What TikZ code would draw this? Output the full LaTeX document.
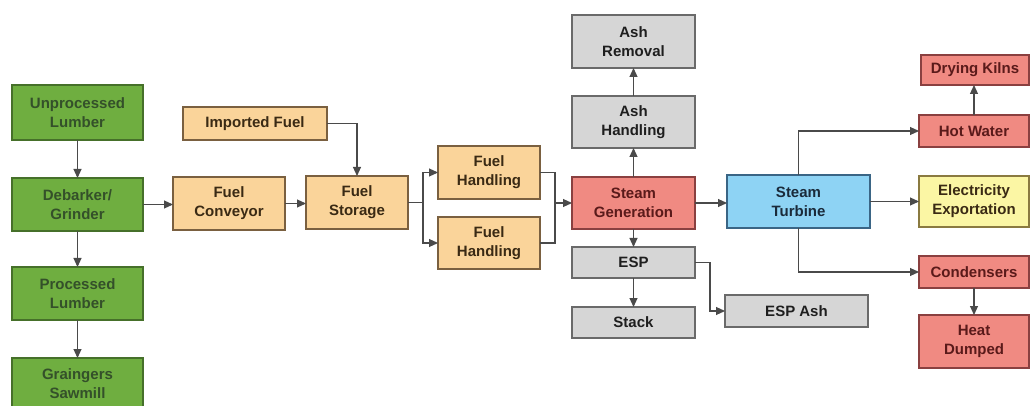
\documentclass[tikz,border=0pt]{standalone}
\usepackage{fontspec}
\setmainfont{Liberation Sans}
\usetikzlibrary{arrows.meta}
\definecolor{gfill}{HTML}{6FAE40}
\definecolor{gdraw}{HTML}{46702A}
\definecolor{gtext}{HTML}{34502A}
\definecolor{ofill}{HTML}{FAD49A}
\definecolor{odraw}{HTML}{7A6040}
\definecolor{otext}{HTML}{3A2A14}
\definecolor{kfill}{HTML}{D6D6D6}
\definecolor{kdraw}{HTML}{6A6A6A}
\definecolor{ktext}{HTML}{1E1E1E}
\definecolor{rfill}{HTML}{F08A82}
\definecolor{rdraw}{HTML}{8A4040}
\definecolor{rtext}{HTML}{5A1A1A}
\definecolor{bfill}{HTML}{8ED3F4}
\definecolor{bdraw}{HTML}{3A6585}
\definecolor{btext}{HTML}{1A2A3A}
\definecolor{yfill}{HTML}{FBF6A4}
\definecolor{ydraw}{HTML}{8A7A40}
\definecolor{lcol}{HTML}{4A4A4A}
\tikzset{
  box/.style={rectangle, inner sep=0pt, outer sep=0pt, line width=1.5pt, align=center,
    font=\fontsize{15}{19}\selectfont\bfseries},
  gbox/.style={box, fill=gfill, draw=gdraw, text=gtext},
  obox/.style={box, fill=ofill, draw=odraw, text=otext},
  kbox/.style={box, fill=kfill, draw=kdraw, text=ktext},
  rbox/.style={box, fill=rfill, draw=rdraw, text=rtext},
  bbox/.style={box, fill=bfill, draw=bdraw, text=btext},
  ybox/.style={box, fill=yfill, draw=ydraw, text=otext},
  ln/.style={draw=lcol, line width=1.1pt},
  arr/.style={ln, -{Triangle[length=9pt,width=8pt]}},
}
\begin{document}
\begin{tikzpicture}[x=1pt,y=-1pt]
\useasboundingbox[fill=white] (0,0) rectangle (1031,406);
% green
\node[gbox, minimum width=131, minimum height=55] (unp) at (77.5,112.5) {Unprocessed\\Lumber};
\node[gbox, minimum width=131, minimum height=53] (deb) at (77.5,204.5) {Debarker/\\Grinder};
\node[gbox, minimum width=131, minimum height=53] (proc) at (77.5,293.5) {Processed\\Lumber};
\node[gbox, minimum width=131, minimum height=52] (sawm) at (77.5,384) {Graingers\\Sawmill};
% orange
\node[obox, minimum width=144, minimum height=33] (imp) at (255,123.5) {Imported Fuel};
\node[obox, minimum width=112, minimum height=53] (conv) at (229,203.5) {Fuel\\Conveyor};
\node[obox, minimum width=102, minimum height=53] (stor) at (357,202.5) {Fuel\\Storage};
\node[obox, minimum width=102, minimum height=53] (fh1) at (489,172.5) {Fuel\\Handling};
\node[obox, minimum width=102, minimum height=52] (fh2) at (489,243) {Fuel\\Handling};
% centre column
\node[rbox, minimum width=123, minimum height=52] (sg) at (633.5,203) {Steam\\Generation};
\node[kbox, minimum width=123, minimum height=52] (ah) at (633.5,122) {Ash\\Handling};
\node[kbox, minimum width=123, minimum height=53] (ar) at (633.5,41.5) {Ash\\Removal};
\node[kbox, minimum width=123, minimum height=31] (esp) at (633.5,262.5) {ESP};
\node[kbox, minimum width=123, minimum height=31] (stack) at (633.5,322.5) {Stack};
\node[kbox, minimum width=143, minimum height=32] (espash) at (796.5,311) {ESP Ash};
\node[bbox, minimum width=143, minimum height=53] (st) at (798.5,201.5) {Steam\\Turbine};
% right column
\node[rbox, minimum width=108, minimum height=30] (dk) at (975,70) {Drying Kilns};
\node[rbox, minimum width=110, minimum height=32] (hw) at (974,131) {Hot Water};
\node[ybox, minimum width=110, minimum height=51] (elec) at (974,201.5) {Electricity\\Exportation};
\node[rbox, minimum width=110, minimum height=32] (cond) at (974,272) {Condensers};
\node[rbox, minimum width=110, minimum height=53] (heat) at (974,341.5) {Heat\\Dumped};
% coordinates
\coordinate (split) at (423,202.5);
\coordinate (merge) at (555,203);
\coordinate (espturn) at (710,262.5);
% connectors
\draw[arr] (unp.south) -- (deb.north);
\draw[arr] (deb.south) -- (proc.north);
\draw[arr] (proc.south) -- (sawm.north);
\draw[arr] (deb.east) -- (deb.east -| conv.west);
\draw[arr] (conv.east) -- (conv.east -| stor.west);
\draw[arr] (imp.east) -| (stor.north);
\draw[ln] (stor.east) -- (split);
\draw[arr] (split) |- (fh1.west);
\draw[arr] (split) |- (fh2.west);
\draw[ln] (fh1.east) -| (merge);
\draw[ln] (fh2.east) -| (merge);
\draw[arr] (merge) -- (sg.west);
\draw[arr] (sg.north) -- (ah.south);
\draw[arr] (ah.north) -- (ar.south);
\draw[arr] (sg.south) -- (esp.north);
\draw[arr] (esp.south) -- (stack.north);
\draw[ln] (esp.east) -- (espturn);
\draw[arr] (espturn) |- (espash.west);
\draw[arr] (sg.east) -- (sg.east -| st.west);
\draw[arr] (st.north) |- (hw.west);
\draw[arr] (st.east) -- (st.east -| elec.west);
\draw[arr] (st.south) |- (cond.west);
\draw[arr] (hw.north) -- (hw.north |- dk.south);
\draw[arr] (cond.south) -- (heat.north);
\end{tikzpicture}
\end{document}
